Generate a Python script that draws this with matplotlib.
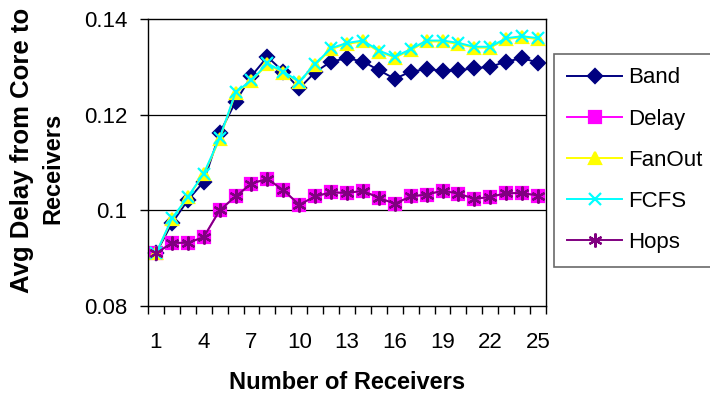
import matplotlib
matplotlib.use("Agg")
import matplotlib.pyplot as plt
from matplotlib.ticker import FixedLocator

plt.rcParams['font.family'] = ['Liberation Sans', 'DejaVu Sans']

receivers = list(range(1, 26))
band = [0.0910, 0.0973, 0.1021, 0.1060, 0.1161, 0.1227, 0.1281, 0.1321, 0.1290, 0.1255,
        0.1289, 0.1311, 0.1318, 0.1311, 0.1293, 0.1275, 0.1290, 0.1295, 0.1292, 0.1293,
        0.1297, 0.1300, 0.1311, 0.1318, 0.1309]
delay = [0.0910, 0.0932, 0.0932, 0.0944, 0.1000, 0.1029, 0.1056, 0.1066, 0.1042, 0.1012,
         0.1029, 0.1038, 0.1036, 0.1041, 0.1026, 0.1014, 0.1029, 0.1033, 0.1041, 0.1035,
         0.1024, 0.1028, 0.1036, 0.1036, 0.1031]
fanout = [0.0910, 0.0981, 0.1027, 0.1075, 0.1149, 0.1245, 0.1271, 0.1305, 0.1288, 0.1268,
          0.1304, 0.1337, 0.1348, 0.1353, 0.1332, 0.1319, 0.1335, 0.1353, 0.1353, 0.1348,
          0.1340, 0.1340, 0.1358, 0.1362, 0.1358]
fcfs = [0.0910, 0.0983, 0.1028, 0.1077, 0.1151, 0.1247, 0.1272, 0.1307, 0.1290, 0.1269,
        0.1306, 0.1339, 0.1350, 0.1355, 0.1334, 0.1321, 0.1337, 0.1355, 0.1355, 0.1350,
        0.1342, 0.1342, 0.1360, 0.1364, 0.1360]
hops = [0.0910, 0.0932, 0.0932, 0.0944, 0.1000, 0.1029, 0.1056, 0.1066, 0.1042, 0.1012,
        0.1029, 0.1038, 0.1036, 0.1041, 0.1026, 0.1014, 0.1029, 0.1033, 0.1041, 0.1035,
        0.1024, 0.1028, 0.1036, 0.1036, 0.1031]
y_ticks = [0.08, 0.1, 0.12, 0.14]
y_tick_labels = ["0.08", "0.1", "0.12", "0.14"]
x_tick_labels = [1, 4, 7, 10, 13, 16, 19, 22, 25]

W, H = 710, 395
fig = plt.figure(figsize=(W / 100, H / 100), dpi=100)
ax = fig.add_axes([148 / W, 1 - 306 / H, (546 - 148) / W, (306 - 19) / H])

series = [
    ("Band", band, "#000080", "D", 7.5),
    ("Delay", delay, "#FF00FF", "s", 8),
    ("FanOut", fanout, "#FFFF00", "^", 8.5),
    ("FCFS", fcfs, "#00FFFF", "x", 8.5),
    ("Hops", hops, "#800080", (6, 2, 0), 10),
]
for name, vals, color, mk, ms in series:
    ax.plot(receivers, vals, color=color, lw=1.4, marker=mk, markersize=ms,
            markerfacecolor=color, markeredgecolor=color, markeredgewidth=1.6,
            label=name, clip_on=False)

ax.set_xlim(0.5, 25.5)
ax.set_ylim(0.08, 0.14)
ax.set_yticks(y_ticks)
ax.set_yticklabels(y_tick_labels)
for yv in [0.1, 0.12]:
    ax.axhline(yv, color="black", lw=0.9, zorder=0)

ax.xaxis.set_major_locator(FixedLocator([i + 0.5 for i in range(0, 26)]))
ax.set_xticklabels([])
ax.xaxis.set_minor_locator(FixedLocator(x_tick_labels))
ax.set_xticklabels([str(v) for v in x_tick_labels], minor=True)
ax.tick_params(axis="x", which="major", length=6, width=1, direction="out")
ax.tick_params(axis="x", which="minor", length=0, pad=19, labelsize=16)
ax.tick_params(axis="y", which="major", length=6, width=1, direction="out",
               labelsize=16, pad=9)

for s in ax.spines.values():
    s.set_linewidth(1)
    s.set_color("black")

ax.set_xlabel("Number of Receivers", fontsize=17, fontweight="bold", labelpad=13)
fig.text(22 / W, 1 - 293 / H, "Avg Delay from Core to", rotation=90,
         ha="center", va="bottom", fontsize=18.5, fontweight="bold")
fig.text(53 / W, 1 - 168 / H, "Receivers", rotation=90,
         ha="center", va="center", fontsize=17, fontweight="bold")

leg = fig.legend(loc="upper left", bbox_to_anchor=(554 / W, 1 - 54 / H), frameon=True,
                 fancybox=False, edgecolor="#444444", fontsize=16, handlelength=2.45,
                 labelspacing=0.91, borderpad=0.6, handletextpad=0.3, borderaxespad=0)
leg.get_frame().set_linewidth(1.2)

fig.savefig("out.png", dpi=100)
